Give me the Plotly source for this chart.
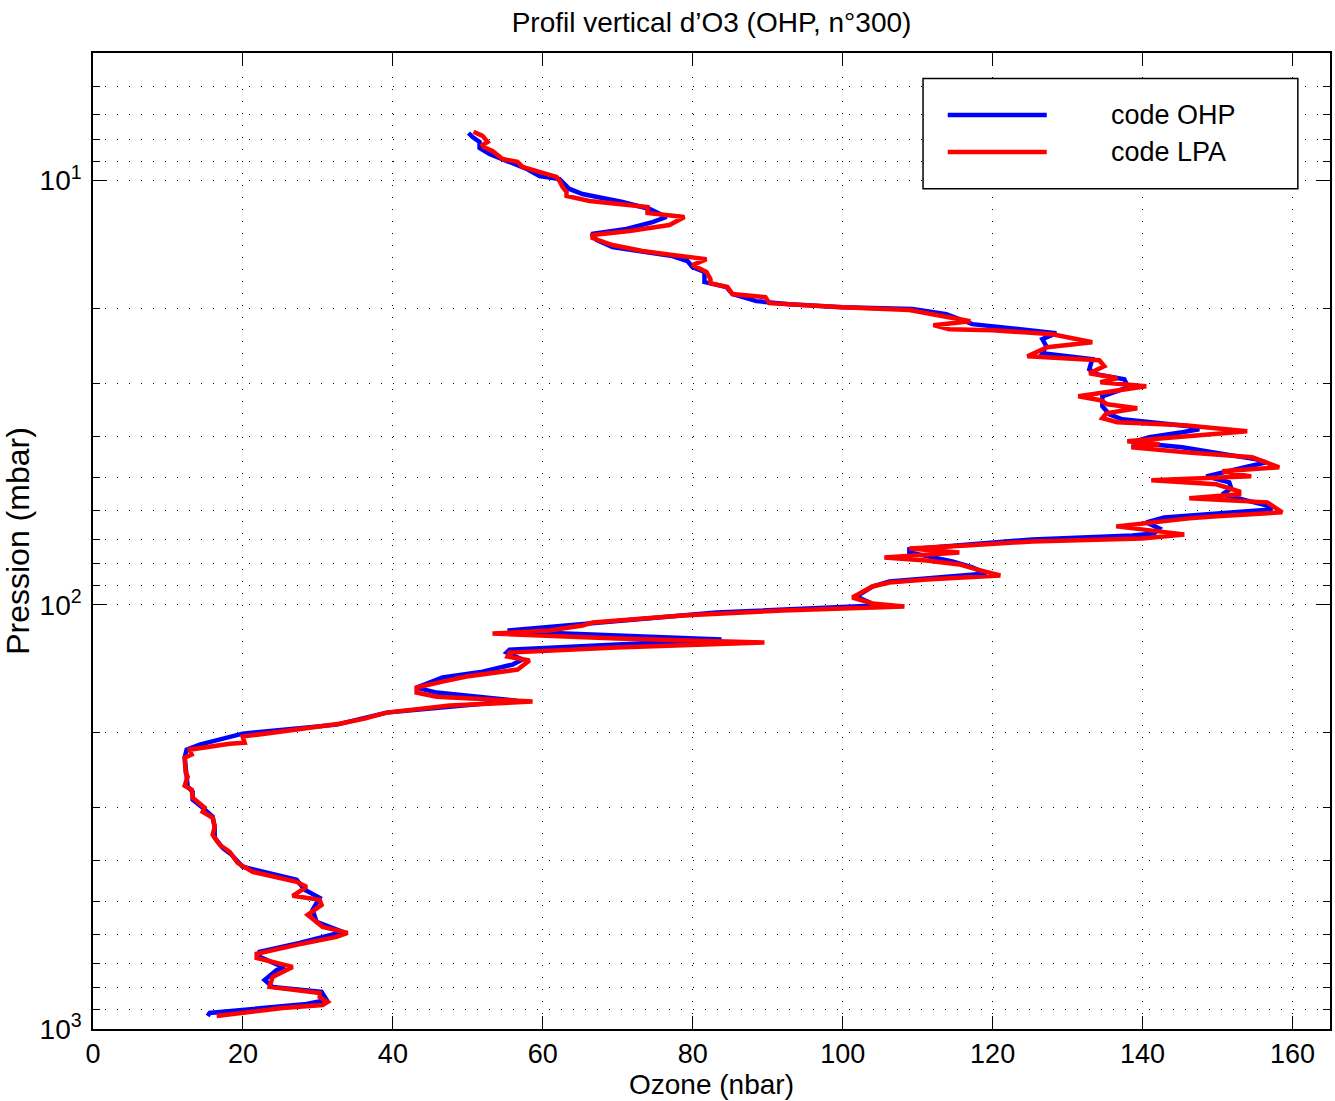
import plotly.graph_objects as go

# ---------------- data ----------------
# code OHP (blue)
pressure_ohp = [7.72, 7.89, 8.10, 8.37, 8.65, 8.98, 9.38, 9.75, 9.91, 10.46,
                10.75, 11.23, 11.66, 12.18, 12.52, 13.00, 13.36, 13.80, 14.34, 15.06,
                15.47, 15.98, 16.42, 17.34, 17.82, 18.51, 19.23, 19.55, 19.87, 20.08,
                20.64, 21.79, 22.27, 22.88, 23.64, 24.56, 25.51, 26.36, 27.83, 28.59,
                29.38, 30.69, 32.23, 34.03, 35.54, 36.52, 37.93, 38.56, 39.19, 40.27,
                41.38, 42.52, 45.39, 46.13, 47.14, 49.78, 51.43, 53.14, 54.89, 58.28,
                59.56, 61.20, 62.20, 63.92, 66.04, 67.86, 68.59, 70.11, 74.02, 75.23,
                79.00, 81.62, 84.33, 88.08, 90.51, 95.57, 100.4, 104.2, 110.1, 115.0,
                116.2, 120.7, 127.5, 129.6, 134.6, 138.3, 143.7, 148.4, 156.7, 161.0,
                168.2, 179.5, 191.6, 201.2, 213.6, 219.5, 229.3, 248.7, 268.4, 275.8,
                288.0, 300.8, 315.9, 333.6, 354.1, 373.9, 388.4, 414.6, 444.9, 469.7,
                490.6, 523.7, 559.0, 590.2, 626.6, 658.0, 676.1, 717.8, 725.7, 766.2,
                795.9, 817.8, 854.2, 872.9, 897.0, 916.6, 931.8]
ozone_ohp = [50.09, 50.63, 51.56, 51.56, 52.89, 55.16, 57.83, 59.56, 62.23, 63.56,
             65.29, 70.63, 74.23, 76.49, 74.63, 71.16, 66.49, 67.16, 69.29, 77.29,
             79.29, 79.96, 81.56, 81.56, 84.49, 85.29, 88.49, 92.89, 99.96, 109.29,
             113.83, 117.29, 122.63, 128.49, 126.63, 127.16, 126.63, 133.29, 132.89, 133.83,
             137.56, 138.09, 134.63, 134.63, 135.56, 137.29, 146.23, 147.56, 145.29, 140.89,
             138.49, 145.29, 155.16, 156.49, 154.23, 148.49, 151.56, 151.83, 150.63, 156.49,
             157.29, 147.56, 142.89, 140.49, 142.23, 141.56, 138.63, 125.29, 108.89, 108.89,
             114.63, 117.29, 119.16, 106.23, 103.96, 101.83, 104.49, 83.16, 66.63, 55.29,
             59.56, 83.83, 55.56, 55.16, 57.29, 55.96, 51.96, 46.63, 43.16, 45.83,
             56.49, 39.16, 32.49, 19.96, 14.23, 12.49, 12.23, 12.36, 12.63, 13.29,
             13.29, 14.63, 15.96, 16.23, 16.23, 17.29, 18.49, 19.96, 27.16, 28.23,
             30.23, 29.29, 29.83, 33.29, 27.56, 22.23, 22.23, 25.56, 24.49, 22.89,
             23.96, 30.49, 31.16, 28.49, 20.89, 15.56, 15.29]

# code LPA (red)
pressure_lpa = [7.67, 7.84, 8.10, 8.24, 8.33, 8.51, 8.89, 9.03, 9.28, 9.54,
                9.80, 10.02, 10.35, 10.63, 10.87, 11.17, 11.41, 11.54, 11.92, 12.18,
                12.72, 13.14, 13.43, 13.65, 14.18, 14.65, 14.97, 15.31, 15.81, 16.42,
                17.06, 17.44, 17.82, 18.51, 18.82, 19.44, 19.87, 20.19, 21.44, 21.91,
                22.39, 22.51, 23.01, 24.03, 24.69, 25.93, 26.50, 27.38, 28.44, 29.22,
                29.87, 30.52, 32.23, 32.93, 33.66, 34.40, 35.35, 36.32, 37.12, 37.73,
                38.98, 41.15, 41.83, 42.52, 43.69, 44.90, 47.40, 48.45, 49.78, 50.87,
                51.99, 54.01, 54.89, 56.10, 57.33, 60.53, 61.86, 62.54, 65.32, 66.75,
                68.22, 69.72, 70.87, 72.43, 73.62, 75.23, 77.31, 78.58, 80.30, 82.52,
                85.25, 87.12, 88.56, 90.51, 96.08, 99.27, 100.9, 103.1, 105.9, 110.1,
                111.9, 115.0, 116.9, 120.1, 122.7, 126.1, 129.6, 132.4, 135.3, 142.1,
                147.6, 151.7, 156.7, 161.0, 164.6, 169.1, 172.8, 179.5, 185.5, 190.6,
                194.8, 204.5, 211.3, 212.5, 219.5, 225.5, 229.3, 248.7, 254.2, 266.9,
                272.8, 284.9, 300.8, 307.5, 317.6, 333.6, 348.4, 367.8, 382.1, 405.7,
                426.0, 449.8, 462.2, 485.3, 496.0, 509.7, 538.2, 562.1, 574.4, 593.4,
                606.5, 633.4, 665.2, 679.8, 713.9, 753.8, 795.9, 822.3, 840.3, 863.5,
                877.7, 892.1, 931.8]
ozone_lpa = [50.76, 51.96, 52.63, 51.96, 52.09, 53.29, 54.63, 56.63, 57.29, 59.56,
             61.83, 62.23, 62.63, 63.16, 63.16, 66.23, 70.63, 73.96, 73.96, 78.89,
             76.89, 71.56, 66.63, 66.63, 69.29, 73.29, 77.29, 81.83, 79.96, 81.83,
             82.36, 82.36, 84.63, 85.29, 89.69, 90.23, 99.96, 108.89, 117.03, 112.09,
             114.23, 119.96, 127.96, 133.29, 127.29, 124.63, 134.23, 134.89, 132.89, 136.63,
             134.36, 140.49, 131.43, 134.36, 135.29, 139.29, 135.16, 134.63, 136.63, 145.56,
             153.96, 137.96, 142.23, 138.49, 145.69, 154.63, 158.23, 150.63, 154.49, 141.16,
             149.83, 152.89, 152.89, 146.23, 156.63, 158.63, 149.96, 146.23, 136.49, 140.89,
             145.56, 139.96, 125.29, 116.49, 108.89, 115.56, 105.56, 111.16, 115.56, 117.83,
             121.03, 111.16, 106.23, 103.96, 101.29, 103.96, 108.23, 91.96, 78.63, 66.63,
             65.29, 60.89, 53.29, 69.83, 89.56, 69.83, 55.56, 55.29, 58.23, 56.63,
             49.83, 46.63, 43.16, 43.16, 45.83, 58.63, 47.56, 39.16, 36.23, 32.89,
             28.89, 19.96, 20.23, 18.23, 12.89, 13.16, 12.23, 12.36, 12.63, 12.23,
             13.16, 13.29, 14.89, 14.63, 15.96, 16.23, 15.96, 16.89, 18.23, 19.29,
             21.29, 27.16, 28.49, 26.63, 30.23, 30.49, 28.63, 29.83, 30.63, 33.96,
             32.49, 27.16, 21.83, 21.83, 26.63, 23.96, 23.56, 30.23, 30.23, 31.29,
             30.63, 25.29, 16.49]

series_names = ["code OHP", "code LPA"]
x_tick_values = [0, 20, 40, 60, 80, 100, 120, 140, 160]
y_major_values = [10, 100, 1000]
y_major_labels = ["10<sup>1</sup>", "10<sup>2</sup>", "10<sup>3</sup>"]
y_minor_values = [6, 7, 8, 9, 20, 30, 40, 50, 60, 70, 80, 90,
                  200, 300, 400, 500, 600, 700, 800, 900]

# ---------------- styling ----------------
FONT = "Liberation Sans, Arial, Helvetica, sans-serif"
BLUE = "#0000ff"
RED = "#ff0000"
GRID_DASH = "1px,11px"

fig = go.Figure()
fig.add_trace(go.Scatter(x=ozone_ohp, y=pressure_ohp, mode="lines", name=series_names[0],
                         line=dict(color=BLUE, width=4.5), showlegend=False))
fig.add_trace(go.Scatter(x=ozone_lpa, y=pressure_lpa, mode="lines", name=series_names[1],
                         line=dict(color=RED, width=4.5), showlegend=False))

fig.update_layout(
    width=1335, height=1101,
    margin=dict(l=93, r=5, t=53, b=72, autoexpand=False),
    paper_bgcolor="white", plot_bgcolor="white",
    font=dict(family=FONT, color="black", size=27),
    title=dict(text="Profil vertical d’O3 (OHP, n°300)", x=0.5, xref="paper", xanchor="center",
               y=1 - 22 / 1101, yref="container", yanchor="middle", automargin=False,
               font=dict(family=FONT, size=28, color="black")),
)

fig.update_xaxes(
    range=[0, 165], tickmode="array", tickvals=x_tick_values,
    ticks="inside", ticklen=13, tickwidth=1, tickcolor="black",
    showline=True, linecolor="black", linewidth=1.5, mirror="ticks",
    showgrid=True, gridcolor="black", gridwidth=1, griddash=GRID_DASH,
    zeroline=False, tickfont=dict(size=27), ticklabelstandoff=0, automargin=False,
    title=dict(text="Ozone (nbar)", font=dict(size=28), standoff=0),
)
fig.update_yaxes(
    type="log", range=[3, 0.69897], tickmode="array",
    tickvals=y_major_values, ticktext=y_major_labels,
    ticks="inside", ticklen=14, tickwidth=1, tickcolor="black",
    showline=True, linecolor="black", linewidth=1.5, mirror="ticks",
    showgrid=True, gridcolor="black", gridwidth=1, griddash=GRID_DASH,
    zeroline=False, tickfont=dict(size=28), ticklabelstandoff=4, automargin=False,
    minor=dict(tickmode="array", tickvals=y_minor_values, ticks="inside", ticklen=7,
               tickwidth=1, tickcolor="black", showgrid=True, gridcolor="black",
               gridwidth=1, griddash=GRID_DASH),
    title=dict(text="Pression (mbar)", font=dict(size=32), standoff=0),
)

# legend box drawn like the reference (long line samples)
fig.add_shape(type="rect", xref="paper", yref="paper", x0=0.671, x1=0.974, y0=0.861, y1=0.974,
              line=dict(color="black", width=1.5), fillcolor="white", layer="above")
legend_rows = [0.9365, 0.8986]
for name, color, yy in zip(series_names, [BLUE, RED], legend_rows):
    fig.add_shape(type="line", xref="paper", yref="paper", x0=0.691, x1=0.771, y0=yy, y1=yy,
                  line=dict(color=color, width=4.5), layer="above")
    fig.add_annotation(text=name, xref="paper", yref="paper", x=0.8214, y=yy,
                       xanchor="left", yanchor="middle", showarrow=False,
                       font=dict(family=FONT, size=27, color="black"))

# remove the browser's default 8px page margin so the figure fills the window exactly,
# and hide the interactive mode bar (not part of the static reference)
fig.write_html("out.html", config={"displayModeBar": False},
               post_script="document.body.style.margin='0px';")
